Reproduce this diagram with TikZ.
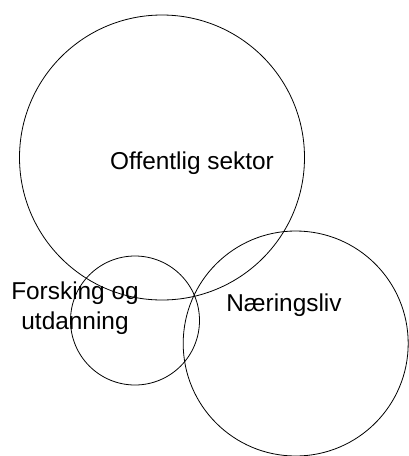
\documentclass[tikz,border=0pt]{standalone}
\usepackage{fontspec}
\setmainfont{Liberation Sans}

\begin{document}
\begin{tikzpicture}[x=1pt, y=-1pt,
    ring/.style={draw, circle, line width=0.8pt, inner sep=0pt},
    label/.style={font=\fontsize{24.4}{30}\selectfont, inner sep=0pt, anchor=base}]
    \useasboundingbox (0,0) rectangle (409,456);

    % sectors
    \node[ring, minimum size=285pt] (offentlig) at (162,157.5) {};
    \node[ring, minimum size=129pt] (forsking) at (135,320.5) {};
    \node[ring, minimum size=225pt] (naering) at (295.7,343.5) {};

    % labels
    \node[label] (offentligtxt) at (192,169) {Offentlig sektor};
    \node[label, align=center] (forskingtxt) at (75,329.3) {Forsking og\\utdanning};
    \node[label] (naeringtxt) at (284,311.7) {Næringsliv};
\end{tikzpicture}
\end{document}
